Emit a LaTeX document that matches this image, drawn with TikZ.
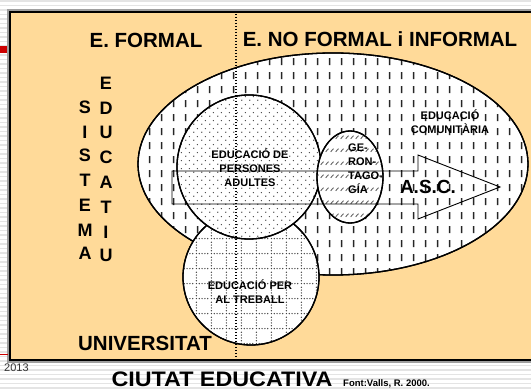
\documentclass[tikz,border=0pt]{standalone}
\usepackage{fontspec}
\usepackage{graphicx}
\setmainfont{Liberation Sans}
\usetikzlibrary{patterns}
\definecolor{frameorange}{HTML}{FFDA99}
\definecolor{stripegray}{HTML}{E4E4E4}
\definecolor{markred}{HTML}{CC0000}

\pgfdeclarepatternformonly{vdashes}{\pgfqpoint{0pt}{0pt}}{\pgfqpoint{12pt}{14pt}}{\pgfqpoint{12pt}{14pt}}{%
  \pgfsetlinewidth{1.7pt}%
  \pgfpathmoveto{\pgfqpoint{6pt}{3pt}}\pgfpathlineto{\pgfqpoint{6pt}{10.5pt}}\pgfusepath{stroke}}

\pgfdeclarepatternformonly{sdots}{\pgfqpoint{0pt}{0pt}}{\pgfqpoint{8pt}{8pt}}{\pgfqpoint{8pt}{8pt}}{%
  \pgfpathcircle{\pgfqpoint{2pt}{2pt}}{0.8pt}%
  \pgfpathcircle{\pgfqpoint{6pt}{6pt}}{0.8pt}%
  \pgfusepath{fill}}

\pgfdeclarepatternformonly{dgrid}{\pgfqpoint{0pt}{0pt}}{\pgfqpoint{15pt}{15pt}}{\pgfqpoint{15pt}{15pt}}{%
  \pgfpathcircle{\pgfqpoint{1.5pt}{1.5pt}}{0.75pt}%
  \pgfpathcircle{\pgfqpoint{4.5pt}{1.5pt}}{0.75pt}%
  \pgfpathcircle{\pgfqpoint{7.5pt}{1.5pt}}{0.75pt}%
  \pgfpathcircle{\pgfqpoint{10.5pt}{1.5pt}}{0.75pt}%
  \pgfpathcircle{\pgfqpoint{13.5pt}{1.5pt}}{0.75pt}%
  \pgfpathcircle{\pgfqpoint{1.5pt}{4.5pt}}{0.75pt}%
  \pgfpathcircle{\pgfqpoint{1.5pt}{7.5pt}}{0.75pt}%
  \pgfpathcircle{\pgfqpoint{1.5pt}{10.5pt}}{0.75pt}%
  \pgfpathcircle{\pgfqpoint{1.5pt}{13.5pt}}{0.75pt}%
  \pgfusepath{fill}}

\pgfdeclarepatternformonly{shatch}{\pgfqpoint{0pt}{0pt}}{\pgfqpoint{5pt}{13pt}}{\pgfqpoint{5pt}{13pt}}{%
  \pgfsetlinewidth{1pt}%
  \pgfpathmoveto{\pgfqpoint{0.8pt}{4.5pt}}\pgfpathlineto{\pgfqpoint{4.2pt}{7.9pt}}\pgfusepath{stroke}}

\begin{document}
\begin{tikzpicture}[x=1pt,y=-1pt,
  stripe/.style={draw=stripegray, line width=1.3pt},
  title/.style={font=\bfseries\fontsize{20.5}{24}\selectfont, inner sep=0pt},
  vletter/.style={font=\bfseries\fontsize{18}{20}\selectfont, inner sep=0pt},
  small/.style={font=\bfseries\fontsize{11}{14}\selectfont, inner sep=0pt, align=center},
  outl/.style={draw=black, line width=1.3pt}
]
\useasboundingbox (0,0) rectangle (531,390);
\clip (0,0) rectangle (531,390);
\fill[white] (0,0) rectangle (531,390);
\foreach \yy in {1,5.5,...,390} \draw[stripe] (0,\yy) -- (531,\yy);

% frame
\draw[gray!75, line width=1.3pt, fill=frameorange] (8,10) rectangle (560,362);
\draw[black, line width=1.8pt] (10.2,12) rectangle (558,360);
\fill[markred] (0,46) rectangle (7,53);
\draw[markred, line width=0.6pt] (0,354) -- (8,354);

% shapes
\draw[outl, fill=white] (333,164) ellipse [x radius=195, y radius=111];
\fill[pattern=vdashes, pattern color=black!85] (333,164) ellipse [x radius=195, y radius=111];
\draw[outl] (333,164) ellipse [x radius=195, y radius=111];

\draw[outl, fill=white] (251,277) circle [radius=68];
\fill[pattern=dgrid, pattern color=black!75] (251,277) circle [radius=68];
\draw[outl] (251,277) circle [radius=68];

\draw[outl, fill=white] (249,167) circle [radius=72];
\fill[pattern=sdots, pattern color=black!75] (249,167) circle [radius=72];
\draw[outl] (249,167) circle [radius=72];

\draw[outl, fill=white] (350,177) ellipse [x radius=33, y radius=46];
\fill[pattern=shatch, pattern color=black!60] (350,177) ellipse [x radius=33, y radius=46];
\draw[outl] (350,177) ellipse [x radius=33, y radius=46];

% arrow
\draw[black, line width=0.9pt, line join=miter]
  (172,171) -- (418,171) -- (418,155) -- (500,187) -- (418,219) -- (418,204) -- (172,204) -- cycle;

% texts
\node[title] (ef) at (146,40) {E. FORMAL};
\node[title] (enf) at (380,39) {E. NO FORMAL i INFORMAL};
\node[title] (univ) at (145,343) {UNIVERSITAT};
\node[title, font=\bfseries\fontsize{21}{24}\selectfont] (ciutat) at (222,379) {\scalebox{1.11}[1]{CIUTAT EDUCATIVA}};
\node[inner sep=0pt, anchor=west, font=\bfseries\fontsize{9.5}{11}\selectfont] (font) at (343,384) {Font:Valls, R. 2000.};
\node[inner sep=0pt, anchor=west, font=\fontsize{11}{13}\selectfont, text=black!80] (yr) at (4,368) {2013};

\foreach \ch/\yy [count=\i] in {S/107,I/132,S/155,T/180,E/205,M/230,A/253}
  \node[vletter] (sis\i) at (85,\yy) {\ch};
\foreach \ch/\yy [count=\i] in {E/83,D/108,U/132,C/157,A/182,T/207,I/232,U/255}
  \node[vletter] (edu\i) at (106,\yy) {\ch};

\node[small] (adults) at (250,168) {EDUCACIÓ DE\\PERSONES\\ADULTES};
\node[small] (treball) at (250,291.5) {EDUCACIÓ PER\\AL TREBALL};
\node[small] (comun) at (450,121.5) {EDUCACIÓ\\COMUNITÀRIA};
\node[small, align=left, anchor=north west] (geron) at (348,144) {GE-\\RON-\\TAGO-\\GÍA};
\node[inner sep=0pt, font=\bfseries\fontsize{19}{22}\selectfont] (asc) at (428,187) {A.S.C.};

% dotted divider
\draw[black, line width=1.3pt, dash pattern=on 1.3pt off 1.7pt] (236,14) -- (236,361);
\end{tikzpicture}
\end{document}
